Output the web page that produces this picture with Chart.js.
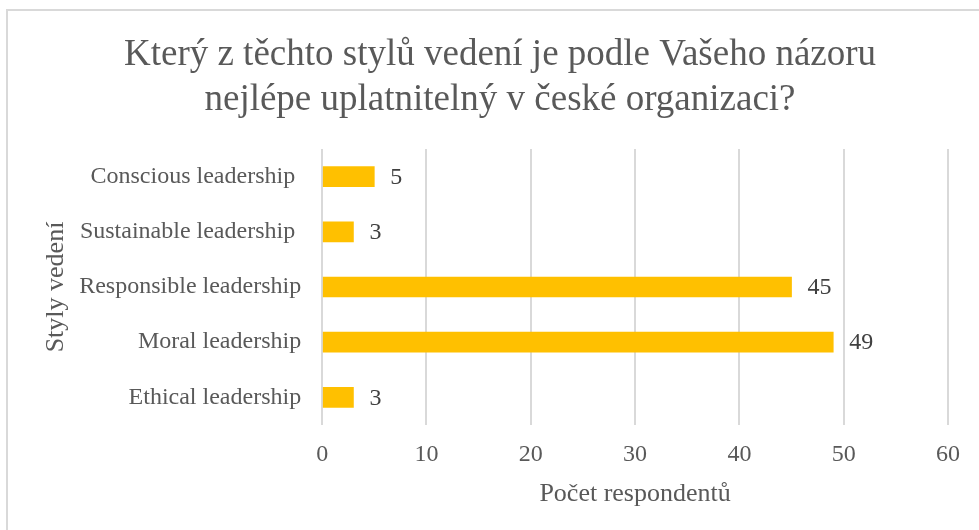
<!DOCTYPE html>
<html>
<head>
<meta charset="utf-8">
<script src="https://cdn.jsdelivr.net/npm/chart.js@4/dist/chart.umd.min.js"></script>
<style>
html,body{margin:0;padding:0;background:#fff;}
canvas{display:block;}
</style>
</head>
<body>
<canvas id="c" width="979" height="530"></canvas>
<script>
const categories = ["Conscious leadership ", "Sustainable leadership ", "Responsible leadership", "Moral leadership", "Ethical leadership"];
const respondents = [5, 3, 45, 49, 3];
const titleLines = ["Který z těchto stylů vedení je podle Vašeho názoru", "nejlépe uplatnitelný v české organizaci?"];
const xAxisTitle = "Počet respondentů";
const yAxisTitle = "Styly vedení";

const SERIF = '"Liberation Serif", "Times New Roman", serif';

const framePlugin = {
  id: 'frame',
  beforeDraw(chart) {
    const ctx = chart.ctx;
    ctx.save();
    ctx.fillStyle = '#ffffff';
    ctx.fillRect(0, 0, chart.width, chart.height);
    ctx.strokeStyle = '#d9d9d9';
    ctx.lineWidth = 2;
    ctx.strokeRect(7, 10, 1200, 800);
    ctx.restore();
  },
  afterDraw(chart) {
    const ctx = chart.ctx;
    ctx.save();
    ctx.font = '37px ' + SERIF;
    ctx.fillStyle = '#595959';
    ctx.textAlign = 'center';
    ctx.textBaseline = 'middle';
    titleLines.forEach((line, i) => ctx.fillText(line, 500, 55 + i * 45));
    ctx.restore();
  }
};

const labelPlugin = {
  id: 'valueLabels',
  afterDatasetsDraw(chart) {
    const ctx = chart.ctx;
    ctx.save();
    ctx.font = '24px ' + SERIF;
    ctx.fillStyle = '#404040';
    ctx.textAlign = 'left';
    ctx.textBaseline = 'middle';
    const meta = chart.getDatasetMeta(0);
    meta.data.forEach((bar, i) => {
      ctx.fillText(String(chart.data.datasets[0].data[i]), bar.x + 16, bar.y + 1);
    });
    ctx.restore();
  }
};

new Chart(document.getElementById('c'), {
  type: 'bar',
  data: {
    labels: categories,
    datasets: [{
      data: respondents,
      backgroundColor: '#FFC000',
      borderWidth: 0,
      barThickness: 20
    }]
  },
  options: {
    indexAxis: 'y',
    responsive: false,
    animation: false,
    devicePixelRatio: 1,
    layout: { padding: { left: 41, right: 31, top: 149, bottom: 20 } },
    plugins: {
      legend: { display: false },
      tooltip: { enabled: false },
      title: { display: false }
    },
    scales: {
      x: {
        min: 0, max: 60,
        ticks: { stepSize: 10, color: '#595959', font: { family: SERIF, size: 24 }, padding: 15 },
        grid: { color: '#d9d9d9', lineWidth: 2, drawTicks: false },
        border: { display: false },
        title: { display: true, text: xAxisTitle, color: '#595959', font: { family: SERIF, size: 26 }, padding: { top: -5, bottom: 0 } }
      },
      y: {
        ticks: { color: '#595959', font: { family: SERIF, size: 24 }, padding: 21 },
        grid: { display: false, drawTicks: false },
        border: { display: false },
        title: { display: true, text: yAxisTitle, color: '#595959', font: { family: SERIF, size: 26 }, padding: { top: 0, bottom: -14 } }
      }
    }
  },
  plugins: [framePlugin, labelPlugin]
});
</script>
</body>
</html>
